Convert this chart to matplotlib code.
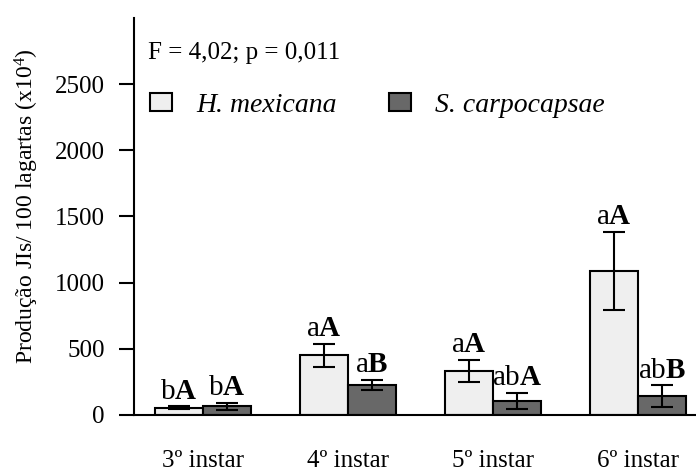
import numpy as np
import matplotlib
matplotlib.use("Agg")
import matplotlib.pyplot as plt
from matplotlib.patches import Patch

plt.rcParams['font.family'] = ['Liberation Serif', 'DejaVu Serif']
plt.rcParams['mathtext.fontset'] = 'custom'
plt.rcParams['mathtext.rm'] = 'Liberation Serif'
plt.rcParams['mathtext.it'] = 'Liberation Serif:italic'
plt.rcParams['mathtext.bf'] = 'Liberation Serif:bold'

# production of infective juveniles per instar
instars = ["3º instar", "4º instar", "5º instar", "6º instar"]
hm_mean = [55, 450, 333, 1088]
hm_err = [10, 88, 82, 297]
sc_mean = [65, 227, 106, 141]
sc_err = [27, 38, 63, 83]
hm_letters = ["b", "a", "a", "a"]
hm_caps = ["A", "A", "A", "A"]
sc_letters = ["b", "a", "ab", "ab"]
sc_caps = ["A", "B", "A", "B"]

species = ["H. mexicana", "S. carpocapsae"]
stat_text = "F = 4,02; p = 0,011"

light = "#efefef"
dark = "#686868"

fig = plt.figure(figsize=(6.96, 4.71), dpi=100)
ax = fig.add_axes([0.1925, 0.119, 0.8075, 0.843])

x = np.arange(len(instars))
w = 0.331
ebar = dict(ecolor="black", elinewidth=1.5, capsize=8, capthick=1.5)

ax.bar(x - w / 2, hm_mean, w, yerr=hm_err, color=light, edgecolor="black",
       linewidth=1.5, error_kw=ebar, zorder=2)
ax.bar(x + w / 2, sc_mean, w, yerr=sc_err, color=dark, edgecolor="black",
       linewidth=1.5, error_kw=ebar, zorder=2)

# significance letters above each bar
for i in range(len(instars)):
    ax.text(x[i] - w / 2, hm_mean[i] + hm_err[i] + 12,
            hm_letters[i] + r"$\mathbf{" + hm_caps[i] + "}$",
            ha="center", va="bottom", fontsize=21)
    ax.text(x[i] + w / 2, sc_mean[i] + sc_err[i] + 12,
            sc_letters[i] + r"$\mathbf{" + sc_caps[i] + "}$",
            ha="center", va="bottom", fontsize=21)

ax.set_xlim(-0.476, 3.4)
ax.set_ylim(0, 3000)
ax.set_yticks([0, 500, 1000, 1500, 2000, 2500])
ax.set_xticks(x)
ax.set_xticklabels(instars)
ax.tick_params(axis="x", length=0, pad=25, labelsize=18)
ax.tick_params(axis="y", length=11, width=1.5, pad=10, labelsize=18)

for side in ["top", "right"]:
    ax.spines[side].set_visible(False)
for side in ["left", "bottom"]:
    ax.spines[side].set_linewidth(1.5)

fig.text(27 / 696, 1 - 206 / 471, r"Produção JIs/ 100 lagartas (x10$^4$)",
         rotation=90, ha="center", va="center", fontsize=17)

fig.text(148 / 696, 1 - 53 / 471, stat_text,
         ha="left", va="center", fontsize=18)

handles = [Patch(facecolor=light, edgecolor="black", linewidth=1.5),
           Patch(facecolor=dark, edgecolor="black", linewidth=1.5)]
leg = fig.legend(handles, species, ncol=2, loc="center left",
                 bbox_to_anchor=(150 / 696, 1 - 105 / 471), frameon=False,
                 borderpad=0, borderaxespad=0,
                 handlelength=0.8, handleheight=0.6, handletextpad=0.85,
                 columnspacing=1.9, prop={"style": "italic", "size": 20})

fig.savefig("out.png", dpi=100)
